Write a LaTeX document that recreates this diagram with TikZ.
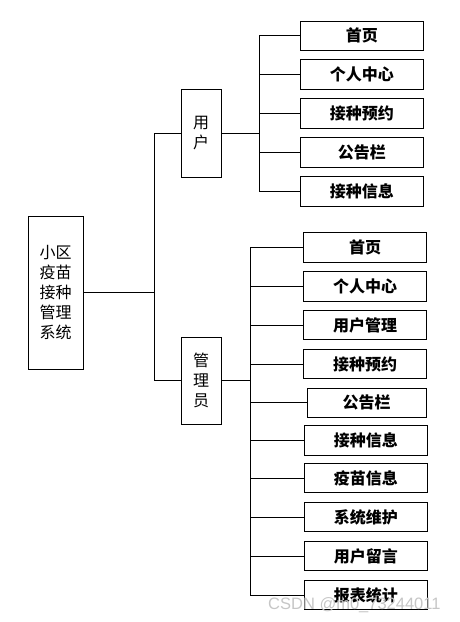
\documentclass[tikz,border=0pt]{standalone}
\usepackage{fontspec}
\newfontfamily\cjk{Noto Sans CJK SC}
\newfontfamily\wm{Liberation Sans}
\begin{document}
\begin{tikzpicture}[x=1pt,y=-1pt,
  box/.style={draw=black, line width=1pt, inner sep=0pt, anchor=center, fill=white},
  tallbox/.style={box, align=center, font=\cjk\fontsize{16}{20}\selectfont},
  leaf/.style={box, minimum height=29.5pt, font=\cjk\bfseries\fontsize{16}{20}\selectfont},
  conn/.style={draw=black, line width=1pt}]
\useasboundingbox (0,0) rectangle (459,622);
% root
\node[tallbox, minimum width=55pt, minimum height=153pt] (root) at (55.5,292.5) {小区\\疫苗\\接种\\管理\\系统};
\node[tallbox, minimum width=40pt, minimum height=88pt] (user) at (201,133) {用\\户};
\node[tallbox, minimum width=40pt, minimum height=87pt] (admin) at (201,380.5) {管\\理\\员};
% user leaves
\node[leaf, minimum width=123pt] (u1) at (361.8,35.8) {首页};
\node[leaf, minimum width=123pt] (u2) at (361.8,74.7) {个人中心};
\node[leaf, minimum width=123pt] (u3) at (361.8,113.7) {接种预约};
\node[leaf, minimum width=123pt] (u4) at (361.8,152.3) {公告栏};
\node[leaf, minimum width=123pt] (u5) at (361.8,191.3) {接种信息};
% admin leaves
\node[leaf, minimum width=122.6pt] (a1) at (365,247.5) {首页};
\node[leaf, minimum width=122.6pt] (a2) at (365,286.4) {个人中心};
\node[leaf, minimum width=122.6pt] (a3) at (365,325.2) {用户管理};
\node[leaf, minimum width=122.6pt] (a4) at (365,364.2) {接种预约};
\node[leaf, minimum width=119.3pt] (a5) at (366.7,402.8) {公告栏};
\node[leaf, minimum width=123pt] (a6) at (365.8,440.7) {接种信息};
\node[leaf, minimum width=123pt] (a7) at (365.8,478) {疫苗信息};
\node[leaf, minimum width=123pt] (a8) at (365.8,517) {系统维护};
\node[leaf, minimum width=123pt] (a9) at (365.8,556) {用户留言};
\node[leaf, minimum width=123pt] (a10) at (365.8,595) {报表统计};
% buses
\coordinate (busR) at (154.5,292.5);
\coordinate (busU) at (259.3,133);
\coordinate (busA) at (250.7,380.5);
% connectors
\draw[conn] (root.east) -- (busR);
\draw[conn] (busR) |- (user.west);
\draw[conn] (busR) |- (admin.west);
\draw[conn] (user.east) -- (busU);
\foreach \n in {u1,u2,u3,u4,u5} \draw[conn] (busU) |- (\n.west);
\draw[conn] (admin.east) -- (busA);
\foreach \n in {a1,a2,a3,a4,a5,a6,a7,a8,a9,a10} \draw[conn] (busA) |- (\n.west);
% watermark
\node[anchor=base west, inner sep=0pt, text=gray!45, font=\wm\fontsize{16.5}{18}\selectfont] (wmark) at (268,609) {CSDN @m0\_73244011};
\end{tikzpicture}
\end{document}
